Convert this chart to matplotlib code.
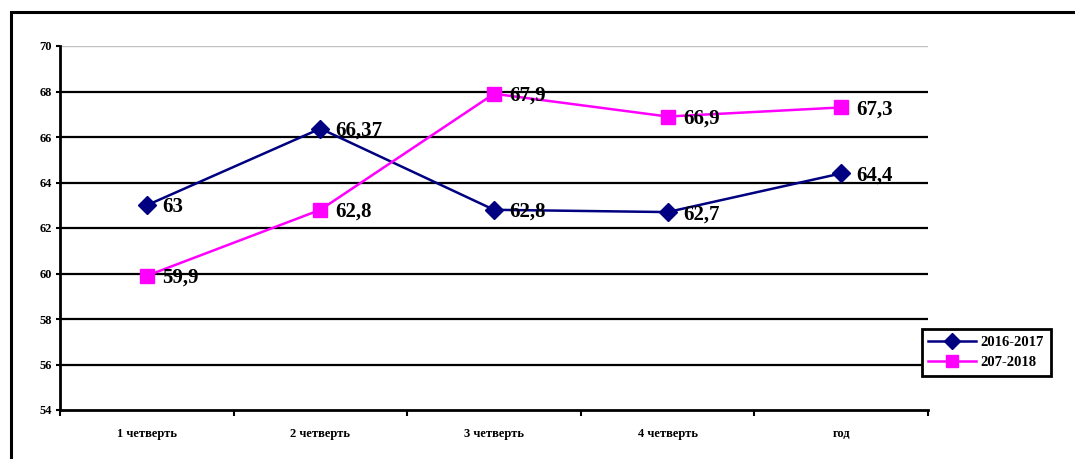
import matplotlib
matplotlib.use("Agg")
import matplotlib.pyplot as plt
from matplotlib.patches import Rectangle

categories = ["1 четверть", "2 четверть", "3 четверть", "4 четверть", "год"]
series_2016 = [63, 66.37, 62.8, 62.7, 64.4]
series_2017 = [59.9, 62.8, 67.9, 66.9, 67.3]
labels_2016 = ["63", "66,37", "62,8", "62,7", "64,4"]
labels_2017 = ["59,9", "62,8", "67,9", "66,9", "67,3"]
legend_names = ["2016-2017", "207-2018"]
yticks = [54, 56, 58, 60, 62, 64, 66, 68, 70]

plt.rcParams['font.family'] = ['Liberation Serif', 'DejaVu Serif']
plt.rcParams['font.weight'] = 'bold'

fig = plt.figure(figsize=(10.75, 4.59), dpi=100)
ax = fig.add_axes([60/1075, 1-410/459, 868/1075, 364/459])

# frame around the chart area
fig.patches.append(Rectangle((11/1075, -0.2), 1.2, 1-12/459+0.2, transform=fig.transFigure,
                             fill=False, edgecolor='black', lw=2.2))

x = list(range(len(categories)))
ax.set_xlim(-0.5, len(categories)-0.5)
ax.set_ylim(54, 70)

for v in yticks[1:-1]:
    ax.axhline(v, color='black', lw=1.6, zorder=1)
ax.axhline(70, color='#c0c0c0', lw=1.0, zorder=1)

l1, = ax.plot(x, series_2016, color='#000080', lw=1.8, marker='D', markersize=9,
              markerfacecolor='#000080', markeredgecolor='#000080', zorder=3)
l2, = ax.plot(x, series_2017, color='#FF00FF', lw=1.8, marker='s', markersize=10,
              markerfacecolor='#FF00FF', markeredgecolor='#FF00FF', zorder=3)

for xi, yi, t in zip(x, series_2016, labels_2016):
    ax.annotate(t, (xi, yi), xytext=(11, -1.5), textcoords='offset points',
                ha='left', va='center', fontsize=15, fontweight='bold', zorder=4)
for xi, yi, t in zip(x, series_2017, labels_2017):
    ax.annotate(t, (xi, yi), xytext=(11, -1.5), textcoords='offset points',
                ha='left', va='center', fontsize=15, fontweight='bold', zorder=4)

for s in ['top', 'right']:
    ax.spines[s].set_visible(False)
ax.spines['left'].set_linewidth(2)
ax.spines['bottom'].set_linewidth(2)

ax.set_yticks(yticks)
ax.set_yticklabels([str(v) for v in yticks], fontsize=9, fontweight='bold')
ax.tick_params(axis='y', length=3, width=1.5, pad=3)

ax.set_xticks(x)
ax.set_xticklabels(categories, fontsize=9, fontweight='bold')
ax.tick_params(axis='x', which='major', length=0, pad=13)
ax.set_xticks([i + 0.5 for i in range(-1, len(categories))], minor=True)
ax.tick_params(axis='x', which='minor', length=4, width=1.5, direction='out')

leg = ax.legend([l1, l2], legend_names, loc='center',
                bbox_to_anchor=(918/1075, 1-380/459, 136/1075, 55/459),
                bbox_transform=fig.transFigure, frameon=True, fancybox=False,
                framealpha=1,
                prop={'family': 'Liberation Serif', 'weight': 'bold', 'size': 10.5},
                handlelength=3.3, borderpad=0.45, labelspacing=0.45, handletextpad=0.3,
                borderaxespad=0, markerscale=0.85)
leg.get_frame().set_edgecolor('black')
leg.get_frame().set_linewidth(2)

fig.savefig("out.png", dpi=100)
